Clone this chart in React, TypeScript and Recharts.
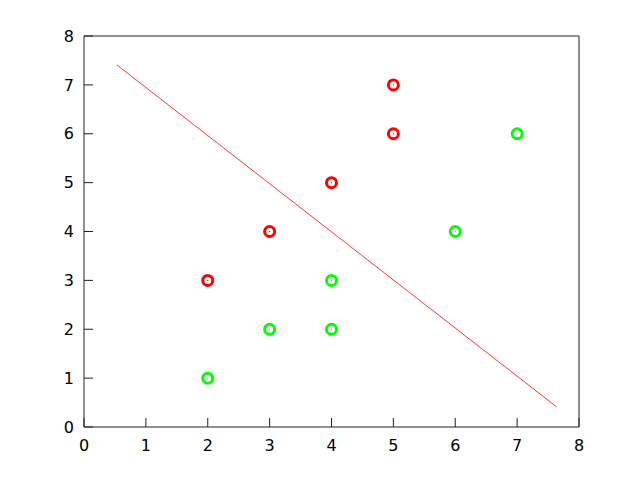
import React from 'react';
import { ScatterChart, Scatter, XAxis, YAxis } from 'recharts';

const redX = [2, 3, 4, 5, 5];
const redY = [3, 4, 5, 6, 7];
const greenX = [2, 3, 4, 4, 6, 7];
const greenY = [1, 2, 2, 3, 4, 6];
const lineX = [0.53, 7.64];
const lineY = [7.41, 0.41];
const ticks = [0, 1, 2, 3, 4, 5, 6, 7, 8];

const toPts = (xs: number[], ys: number[]) => xs.map((x, i) => ({ x, y: ys[i] }));
const redData = toPts(redX, redY);
const greenData = toPts(greenX, greenY);
const lineData = toPts(lineX, lineY);

const ring = (color: string) => (props: any) => (
  <g>
    <circle cx={props.cx} cy={props.cy} r={5} fill="none" stroke={color} strokeWidth={3} />
    <circle cx={props.cx} cy={props.cy} r={0.7} fill={color} />
  </g>
);

const axisStroke = '#222';
const tickFont = { fontFamily: 'DejaVu Sans', fontSize: 16, fill: '#000' };

export default function App() {
  return (
    <div style={{ position: 'absolute', left: 0, top: 0, background: '#fff' }}>
      <ScatterChart width={640} height={480} margin={{ top: 35, left: 83, right: 60, bottom: 52 }}>
        <XAxis xAxisId="b" orientation="bottom" type="number" dataKey="x" domain={[0, 8]} ticks={ticks} height={1}
          tickSize={-9} tickMargin={22} stroke={axisStroke} tick={tickFont} fontSize={16} fontFamily="DejaVu Sans" allowDataOverflow />
        <XAxis xAxisId="t" orientation="top" type="number" dataKey="x" domain={[0, 8]} ticks={ticks} height={1}
          tickSize={-9} tick={false} stroke={axisStroke} allowDataOverflow />
        <YAxis yAxisId="l" orientation="left" type="number" dataKey="y" domain={[0, 8]} ticks={ticks} width={1}
          tickSize={-9} tickMargin={19} stroke={axisStroke} tick={tickFont} fontSize={16} fontFamily="DejaVu Sans" allowDataOverflow />
        <YAxis yAxisId="r" orientation="right" type="number" dataKey="y" domain={[0, 8]} ticks={ticks} width={1}
          tickSize={-9} tick={false} stroke={axisStroke} allowDataOverflow />
        <Scatter xAxisId="b" yAxisId="l" data={lineData} line={{ stroke: '#ff0000', strokeWidth: 0.8 }}
          shape={() => <g />} isAnimationActive={false} />
        <Scatter xAxisId="b" yAxisId="l" data={redData} shape={ring('#ff0000')} isAnimationActive={false} />
        <Scatter xAxisId="b" yAxisId="l" data={greenData} shape={ring('#00ff00')} isAnimationActive={false} />
      </ScatterChart>
    </div>
  );
}
